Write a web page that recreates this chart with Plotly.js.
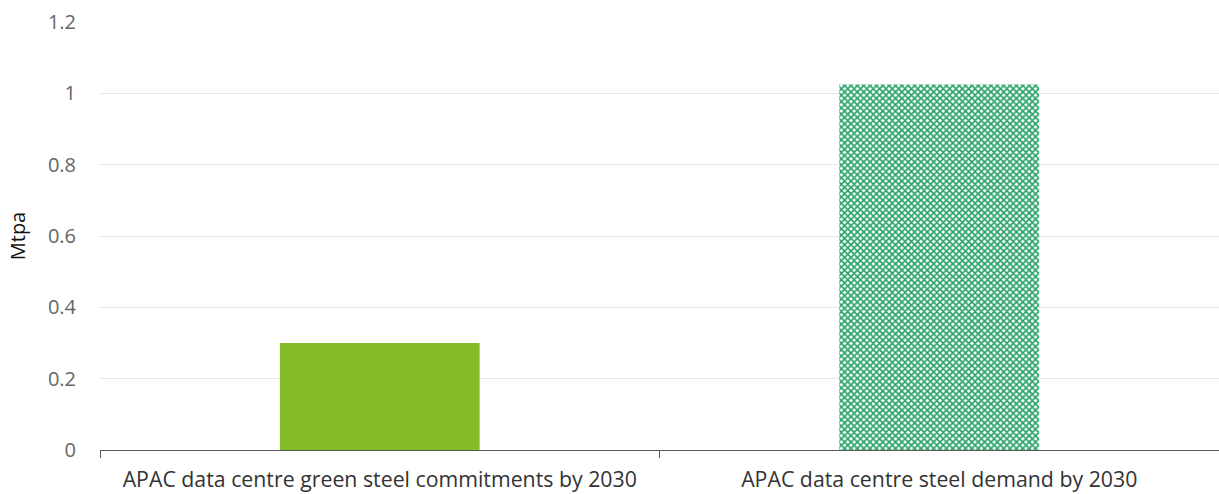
<!DOCTYPE html>
<html>
<head>
<meta charset="utf-8">
<script src="https://cdn.plot.ly/plotly-3.0.1.min.js"></script>
<style>html,body{margin:0;padding:0;background:#fff;}#chart{width:1219px;height:494px;}</style>
</head>
<body>
<div id="chart"></div>
<script>
const categories = ["APAC data centre green steel commitments by 2030", "APAC data centre steel demand by 2030"];
const commitments = [0.30, null];
const demand = [null, 1.025];
const yTicks = [0, 0.2, 0.4, 0.6, 0.8, 1, 1.2];
const yTickLabels = ["0", "0.2", "0.4", "0.6", "0.8", "1", "1.2"];

const traces = [
  {
    type: "bar", x: categories, y: commitments, name: "Commitments",
    width: 0.357,
    marker: {color: "#84bd27", line: {width: 0}},
    hoverinfo: "x+y"
  },
  {
    type: "bar", x: categories, y: demand, name: "Demand",
    width: 0.357,
    marker: {color: "#ffffff", line: {width: 0},
      pattern: {shape: "x", fgcolor: "#26a267", bgcolor: "#ffffff", size: 4.5, solidity: 0.62}},
    hoverinfo: "x+y"
  }
];

const layout = {
  width: 1219, height: 494,
  margin: {l: 100, r: 0, t: 22, b: 44},
  paper_bgcolor: "#ffffff", plot_bgcolor: "#ffffff",
  barmode: "overlay",
  showlegend: false,
  font: {family: "Open Sans, sans-serif", color: "#595959", size: 21},
  xaxis: {
    type: "category",
    showline: true, linecolor: "#595959", linewidth: 1,
    ticks: "outside", tickson: "boundaries", ticklen: 7, tickcolor: "#595959",
    showgrid: false, zeroline: false,
    ticklabelstandoff: 10,
    tickfont: {size: 21.3, color: "#333333"},
    fixedrange: true
  },
  yaxis: {
    range: [0, 1.2],
    tickvals: yTicks, ticktext: yTickLabels,
    showgrid: true, gridcolor: "#e5e5e5", gridwidth: 1,
    zeroline: false, showline: false, ticks: "",
    ticklabelstandoff: 23,
    tickfont: {size: 20, color: "#666666"},
    title: {text: "Mtpa", font: {size: 20, color: "#111111"}, standoff: 16},
    fixedrange: true
  }
};

Plotly.newPlot("chart", traces, layout, {displayModeBar: false, staticPlot: true});
</script>
</body>
</html>
